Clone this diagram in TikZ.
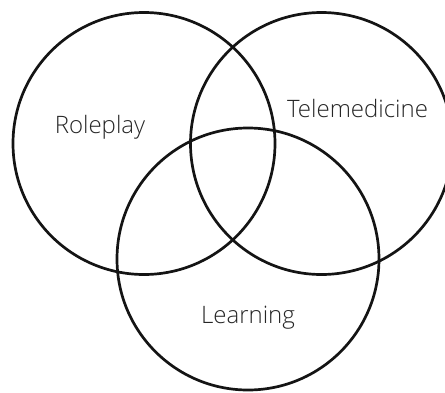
\documentclass[tikz,border=0pt]{standalone}
\usepackage{fontspec}
\setmainfont{Open Sans Light}
\begin{document}
\begin{tikzpicture}[x=1pt,y=-1pt,
  ring/.style={circle, draw=black!92, line width=2.7pt, minimum size=262pt, inner sep=0pt},
  label/.style={font=\fontsize{24}{28}\selectfont, text=black!85, anchor=base, inner sep=0pt}]
  \useasboundingbox (0,0) rectangle (445,392);
  \begin{scope}
    \clip (0,0) rectangle (445,392);
    \node[ring] (roleplay) at (144,143.5) {};
    \node[ring] (telemedicine) at (321.5,143.5) {};
    \node[ring] (learning) at (248,259) {};
  \end{scope}
  \node[label] (tRole) at (100,133) {Roleplay};
  \node[label] (tTele) at (357.5,117) {Telemedicine};
  \node[label] (tLearn) at (248,323) {Learning};
\end{tikzpicture}
\end{document}
